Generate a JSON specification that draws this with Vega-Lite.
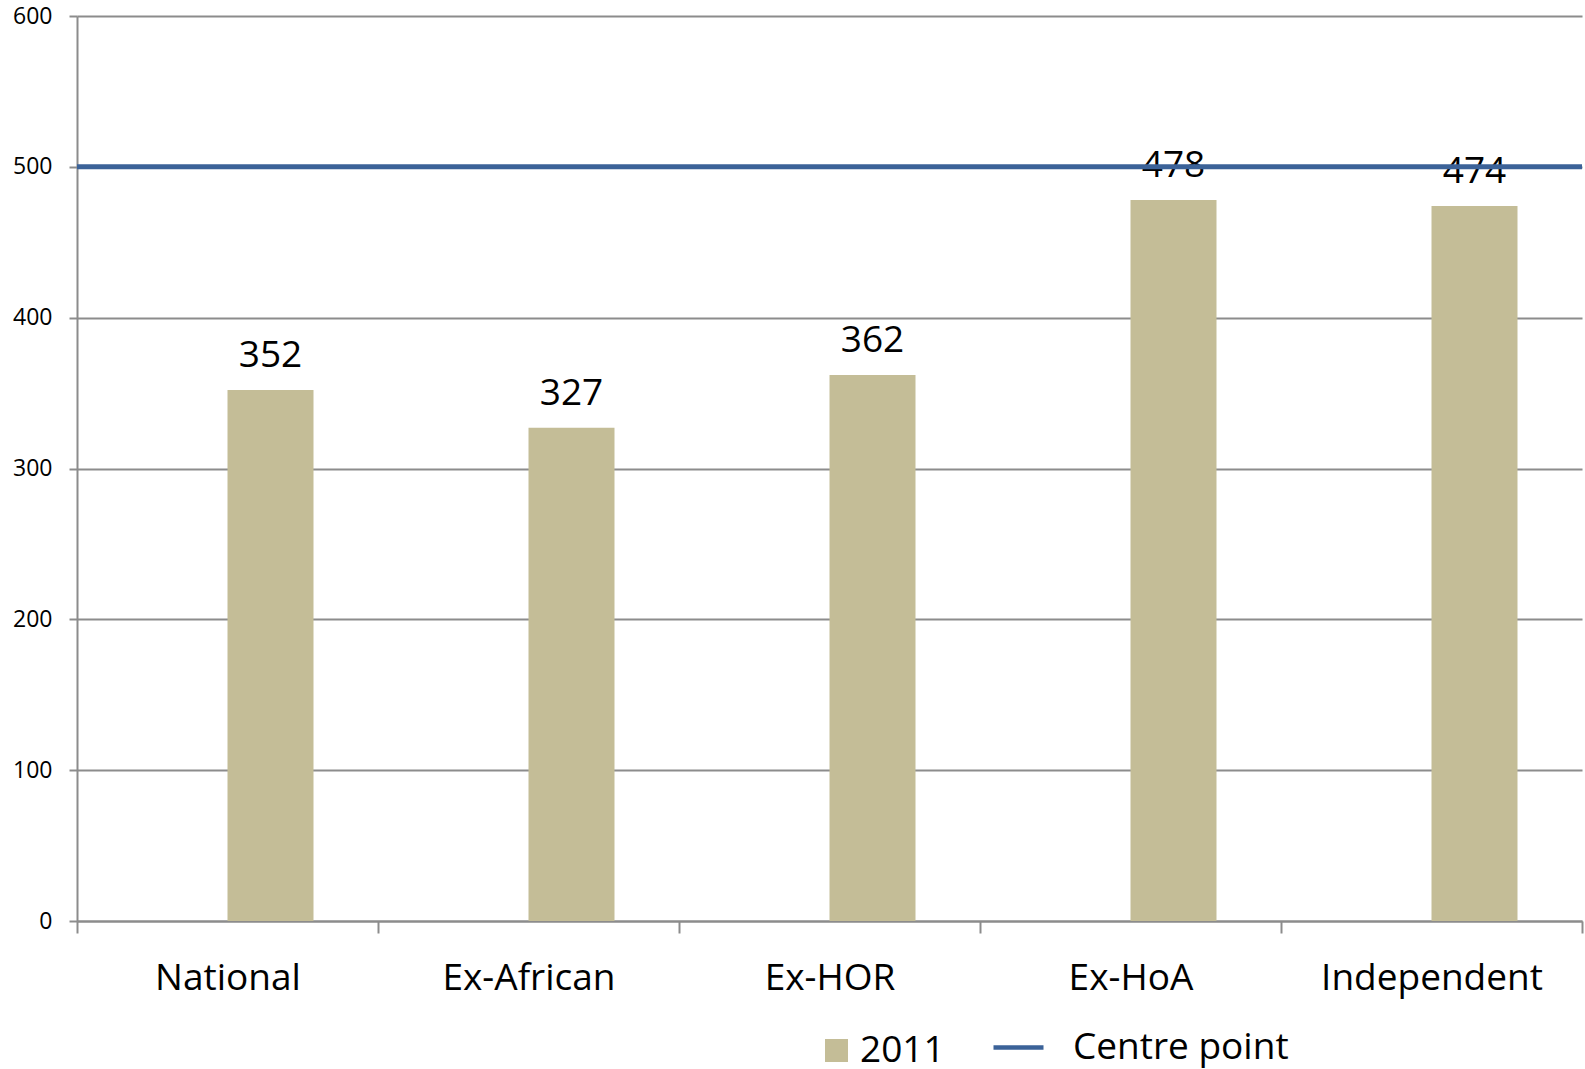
{
  "$schema": "https://vega.github.io/schema/vega-lite/v6.json",
  "width": 1505,
  "height": 905,
  "autosize": "none",
  "padding": {"left": 77, "top": 16, "right": 3, "bottom": 148},
  "background": "white",
  "config": {
    "view": {"stroke": null},
    "font": "Open Sans",
    "axis": {"labelFont": "Open Sans", "labelColor": "#000000"},
    "legend": {"labelFont": "Open Sans", "labelColor": "#000000", "padding": 0, "labelLimit": 0}
  },
  "data": {
    "values": [
      {"category": "National", "value": 352, "series": "2011"},
      {"category": "Ex-African", "value": 327, "series": "2011"},
      {"category": "Ex-HOR", "value": 362, "series": "2011"},
      {"category": "Ex-HoA", "value": 478, "series": "2011"},
      {"category": "Independent", "value": 474, "series": "2011"}
    ]
  },
  "layer": [
    {
      "mark": {"type": "bar"},
      "encoding": {
        "x": {
          "field": "category", "type": "nominal", "sort": null,
          "scale": {"paddingInner": 0, "paddingOuter": 0},
          "axis": {
            "title": null, "labelAngle": 0, "labelFontSize": 37, "labelLimit": 0,
            "labelBaseline": "alphabetic", "labelPadding": 56,
            "tickBand": "extent", "tickSize": 12, "tickWidth": 2, "tickColor": "#8c8c8c",
            "domainColor": "#8c8c8c", "domainWidth": 2, "grid": false
          }
        },
        "xOffset": {
          "field": "series", "type": "nominal",
          "scale": {"domain": ["blank", "2011"], "paddingInner": 0, "paddingOuter": 0.75}
        },
        "y": {
          "field": "value", "type": "quantitative",
          "scale": {"domain": [0, 600], "nice": false},
          "axis": {
            "title": null, "values": [0, 100, 200, 300, 400, 500, 600],
            "labelFontSize": 23, "labelPadding": 17, "tickSize": 8, "tickWidth": 2,
            "tickColor": "#8c8c8c", "domainColor": "#8c8c8c", "domainWidth": 2,
            "grid": true, "gridColor": "#8c8c8c", "gridWidth": 2
          }
        },
        "fill": {
          "field": "series", "type": "nominal",
          "scale": {"domain": ["2011"], "range": ["#C4BD97"]},
          "legend": {
            "title": null, "orient": "none", "legendX": 741, "legendY": 1016,
            "symbolType": "square", "symbolSize": 529, "symbolStrokeWidth": 0,
            "labelFontSize": 37, "labelOffset": 5
          }
        }
      }
    },
    {
      "mark": {"type": "text", "baseline": "alphabetic", "dy": -23, "fontSize": 37, "color": "#000000", "font": "Open Sans"},
      "encoding": {
        "x": {"field": "category", "type": "nominal", "sort": null},
        "xOffset": {"field": "series", "type": "nominal"},
        "y": {"field": "value", "type": "quantitative"},
        "text": {"field": "value", "type": "quantitative"}
      }
    },
    {
      "data": {"values": [{"line": "Centre point", "v": 500}]},
      "mark": {"type": "rule", "strokeWidth": 5},
      "encoding": {
        "y": {"field": "v", "type": "quantitative"},
        "stroke": {
          "field": "line", "type": "nominal",
          "scale": {"domain": ["Centre point"], "range": ["#3B6298"]},
          "legend": {
            "title": null, "orient": "none", "legendX": 914, "legendY": 1004,
            "symbolType": "stroke", "symbolSize": 2500, "symbolStrokeWidth": 4.5,
            "labelFontSize": 37, "labelOffset": 27
          }
        }
      }
    }
  ]
}
